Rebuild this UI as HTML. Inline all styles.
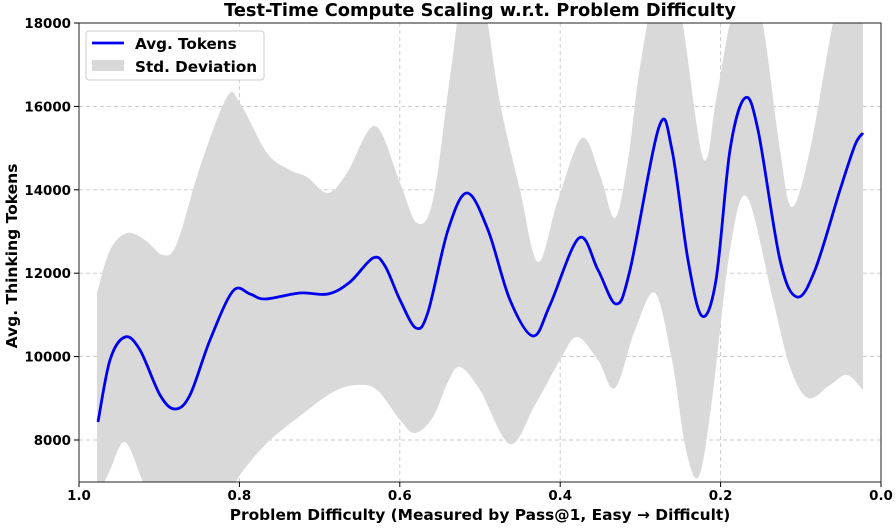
<!DOCTYPE html>
<html><head><meta charset="utf-8"><style>
body{margin:0;background:#fff}
text{font-family:"DejaVu Sans","Liberation Sans",sans-serif;font-weight:bold}
</style></head><body>
<svg id="s" width="896" height="525" xmlns="http://www.w3.org/2000/svg">
<defs><clipPath id="c"><rect x="79" y="23" width="802" height="459"/></clipPath></defs>
<rect width="896" height="525" fill="#fff"/>
<g id="grid" stroke="#c8c8c8" stroke-dasharray="4,3" stroke-width="0.9"></g>
<g clip-path="url(#c)">
<path id="band" fill="#d9d9d9" stroke="none"/>
<path id="line" fill="none" stroke="#0000ee" stroke-width="2.8"/>
</g>
<rect x="79" y="23" width="802" height="459" fill="none" stroke="#222" stroke-width="1"/>
<g id="ticks" font-size="13.4"></g>
<text x="480" y="16" font-size="17.8" text-anchor="middle">Test-Time Compute Scaling w.r.t. Problem Difficulty</text>
<text x="480" y="520" font-size="15.4" text-anchor="middle">Problem Difficulty (Measured by Pass@1, Easy → Difficult)</text>
<text transform="translate(17,256) rotate(-90)" font-size="15.5" text-anchor="middle">Avg. Thinking Tokens</text>
<rect x="86" y="31" width="178" height="49" fill="#fff" stroke="#ccc" rx="3"/>
<line x1="92" y1="43" x2="124" y2="43" stroke="#0000ee" stroke-width="2.8"/>
<text x="135" y="49" font-size="15.2">Avg. Tokens</text>
<rect x="92" y="60" width="32" height="11" fill="#d9d9d9"/>
<text x="135" y="72" font-size="15.2">Std. Deviation</text>
</svg>
<script>
function cr(p){let d="M"+p[0][0]+","+p[0][1];for(let i=0;i<p.length-1;i++){const a=p[Math.max(0,i-1)],b=p[i],c=p[i+1],e=p[Math.min(p.length-1,i+2)];
d+=" C"+(b[0]+(c[0]-a[0])/6)+","+(b[1]+(c[1]-a[1])/6)+" "+(c[0]-(e[0]-b[0])/6)+","+(c[1]-(e[1]-b[1])/6)+" "+c[0]+","+c[1];}return d;}
const line=[[98,422],[110,360],[125,337],[140,350],[160,395],[175,409],[190,395],[210,340],[233,291],[250,294],[265,299],[300,293],[328,294],[350,282],[373,258],[385,266],[400,300],[416,328],[428,312],[448,230],[467,193],[488,230],[510,300],[533,336],[550,305],[579,238],[598,270],[616,304],[630,270],[659,127],[672,150],[688,260],[702,316],[716,280],[730,150],[745,98],[758,130],[780,260],[797,297],[815,270],[840,190],[855,145],[863,133]];
const up=[[97,293],[110,250],[127,233],[145,240],[163,255],[177,243],[200,167],[227,97],[240,103],[267,153],[290,170],[307,177],[328,193],[347,173],[375,126],[400,183],[417,223],[433,200],[450,77],[465,-20],[483,0],[500,103],[520,190],[538,262],[558,200],[582,138],[600,175],[615,218],[628,160],[640,67],[660,-30],[680,10],[703,158],[716,100],[730,23],[745,-20],[762,20],[780,150],[792,207],[810,150],[833,23],[848,-30],[863,-40]];
const lo=[[97,500],[110,470],[125,442],[143,482],[160,520],[210,520],[240,475],[267,443],[300,416],[333,392],[357,385],[377,390],[400,420],[415,433],[433,417],[448,382],[460,367],[480,390],[510,444],[535,405],[560,360],[577,337],[598,360],[615,388],[635,330],[655,293],[672,360],[686,450],[699,476],[712,400],[730,250],[747,197],[773,300],[790,367],[808,398],[830,385],[847,375],[863,390]];
document.getElementById("line").setAttribute("d",cr(line));
const lr=lo.slice().reverse();let bd=cr(up)+" L"+lr[0][0]+","+lr[0][1]+cr(lr).slice(cr(lr).indexOf(" C"))+" Z";
document.getElementById("band").setAttribute("d",bd);
let g=document.getElementById("grid"),t=document.getElementById("ticks"),ns="http://www.w3.org/2000/svg";
function el(p,n,a,tx){const e=document.createElementNS(ns,n);for(const k in a)e.setAttribute(k,a[k]);if(tx)e.textContent=tx;p.appendChild(e);}
for(let i=0;i<=5;i++){const x=79+i*160.4;el(g,"line",{x1:x,y1:23,x2:x,y2:482});el(t,"line",{x1:x,y1:482,x2:x,y2:487,stroke:"#000"});el(t,"text",{x:x,y:500,"text-anchor":"middle"},(1-i*0.2).toFixed(1));}
for(let v=8000;v<=18000;v+=2000){const y=440-(v-8000)/2000*83.4;el(g,"line",{x1:79,y1:y,x2:881,y2:y});el(t,"line",{x1:74,y1:y,x2:79,y2:y,stroke:"#000"});el(t,"text",{x:71,y:y+5,"text-anchor":"end"},v);}
</script>
</body></html>
